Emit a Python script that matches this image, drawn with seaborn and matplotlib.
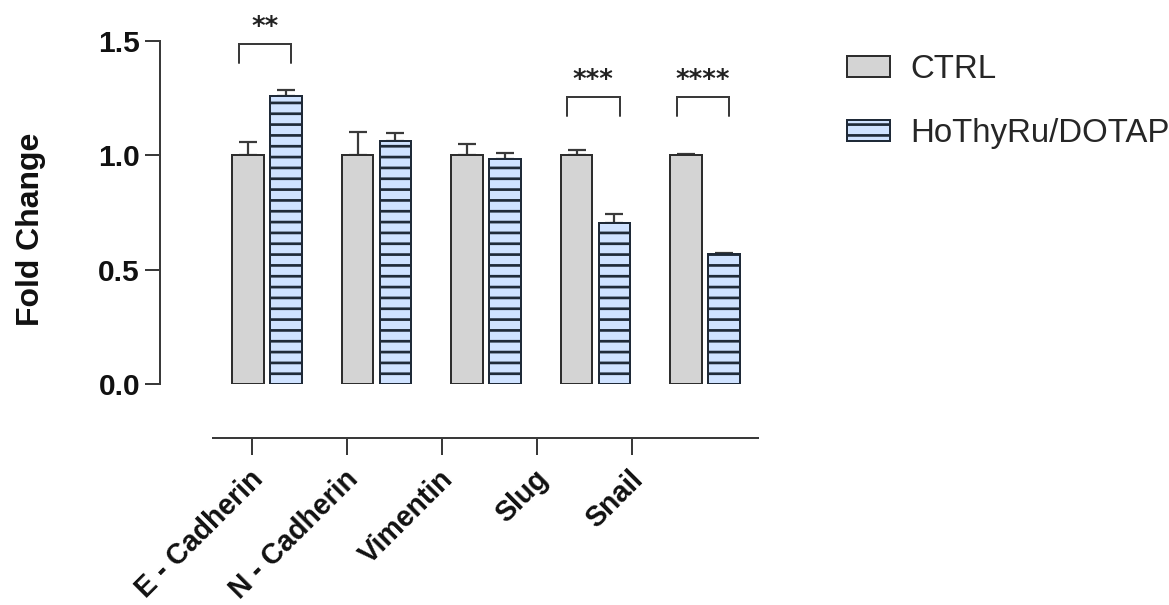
import matplotlib
matplotlib.use("Agg")
import matplotlib.pyplot as plt
from matplotlib.transforms import ScaledTranslation
import seaborn as sns
import pandas as pd

# ---------------- data ----------------
genes = ["E - Cadherin", "N - Cadherin", "Vimentin", "Slug", "Snail"]
groups = ["CTRL", "HoThyRu/DOTAP"]
ctrl_mean = [1.0, 1.0, 1.0, 1.0, 1.0]
ctrl_err = [0.06, 0.10, 0.05, 0.022, 0.005]
ho_mean = [1.26, 1.063, 0.984, 0.703, 0.568]
ho_err = [0.025, 0.036, 0.025, 0.04, 0.004]
sig_labels = ["**", "", "", "***", "****"]
sig_heights = [1.487, None, None, 1.255, 1.255]
y_ticks = [0.0, 0.5, 1.0, 1.5]
y_ticklabels = ["0.0", "0.5", "1.0", "1.5"]

# ---------------- style ----------------
DPI = 65
W, H = 1169, 605


def px(v):
    return v * 72.0 / DPI


def fx(p):
    return p / W


def fy(p):
    return 1 - p / H


AX_COL = "#3a3a3a"
EDGE = "#2e2e2e"
HATCH = "#1f2a38"

sns.set_theme(style="white")
plt.rcParams["font.family"] = ["Liberation Sans", "DejaVu Sans"]
plt.rcParams["hatch.linewidth"] = px(2.7)
plt.rcParams["hatch.color"] = HATCH

fig = plt.figure(figsize=(W / DPI, H / DPI), dpi=DPI)
ax = fig.add_axes([fx(160), fy(384), fx(758 - 160), (384 - 41) / H])
ax.set_facecolor("none")

df = pd.DataFrame({
    "gene": genes * 2,
    "group": [groups[0]] * len(genes) + [groups[1]] * len(genes),
    "fc": ctrl_mean + ho_mean,
})
sns.barplot(data=df, x="gene", y="fc", hue="group", order=genes,
            hue_order=groups, palette=["#d4d4d4", "#cfe2ff"], saturation=1,
            width=0.69, gap=0.16, errorbar=None, edgecolor=EDGE,
            linewidth=px(2), legend=False, ax=ax)

for bar in ax.containers[1]:
    bar.set_hatch("-")
    bar.set_edgecolor(HATCH)

for cont, errs in zip(ax.containers, [ctrl_err, ho_err]):
    for bar, e in zip(cont, errs):
        x = bar.get_x() + bar.get_width() / 2
        h = bar.get_height()
        ax.errorbar(x, h, yerr=[[0], [e]], fmt="none", ecolor=AX_COL,
                    elinewidth=px(2.2), capsize=px(9), capthick=px(2.2),
                    zorder=0.5)

ax.set_xlim(-0.977, 4.484)
ax.set_ylim(0, 1.5)
ax.set_yticks(y_ticks)
ax.set_yticklabels(y_ticklabels)
ax.set_xticks([])
ax.set_xlabel("")
for s in ["top", "right", "bottom"]:
    ax.spines[s].set_visible(False)
ax.spines["left"].set_color(AX_COL)
ax.spines["left"].set_linewidth(px(2))
ax.tick_params(axis="y", direction="out", length=px(15), width=px(2),
               color=AX_COL, labelsize=px(30), pad=px(5), left=True)
for t in ax.get_yticklabels():
    t.set_fontweight("bold")
    t.set_color("#111111")

ax.set_ylabel("Fold Change", fontsize=px(32), fontweight="bold",
              color="#111111")
ax.yaxis.set_label_coords(-0.19, 0.452)

# significance brackets
for i, (lab, hgt) in enumerate(zip(sig_labels, sig_heights)):
    if not lab:
        continue
    xs = [i - 0.26, i - 0.26, i + 0.22, i + 0.22]
    ys = [hgt - 0.085, hgt, hgt, hgt - 0.085]
    ax.plot(xs, ys, color=AX_COL, lw=px(2), clip_on=False,
            solid_joinstyle="miter")
    ax.text(i - 0.02, hgt + 0.07, lab, ha="center", va="center",
            fontsize=px(26), fontweight="bold", color="#222222",
            family=["DejaVu Sans"], clip_on=False)

# detached category axis
ax2 = fig.add_axes([fx(213), fy(438), fx(758 - 213), 0.0005])
ax2.set_facecolor("none")
for s in ["top", "right", "left"]:
    ax2.spines[s].set_visible(False)
ax2.spines["bottom"].set_color(AX_COL)
ax2.spines["bottom"].set_linewidth(px(2))
ax2.set_yticks([])
ax2.set_xlim(-0.41, 5.33)
ax2.set_xticks(range(len(genes)))
ax2.set_xticklabels(genes, rotation=45, ha="right", va="center",
                    rotation_mode="anchor", fontsize=px(28.5),
                    fontweight="bold", color="#111111")
ax2.tick_params(axis="x", direction="out", length=px(17), width=px(2),
                color=AX_COL, pad=px(8), bottom=True)
shift = ScaledTranslation(7 / DPI, -12 / DPI, fig.dpi_scale_trans)
for lab in ax2.get_xticklabels():
    lab.set_transform(lab.get_transform() + shift)

handles = [ax.containers[0][0], ax.containers[1][0]]
fig.legend(handles, groups, loc="upper left",
           bbox_to_anchor=(fx(847), fy(54)), frameon=False,
           fontsize=px(33), handlelength=43 / 33, handleheight=21 / 33,
           handletextpad=20 / 33, labelspacing=1.0, borderpad=0,
           borderaxespad=0)

fig.savefig("out.png", dpi=DPI)
